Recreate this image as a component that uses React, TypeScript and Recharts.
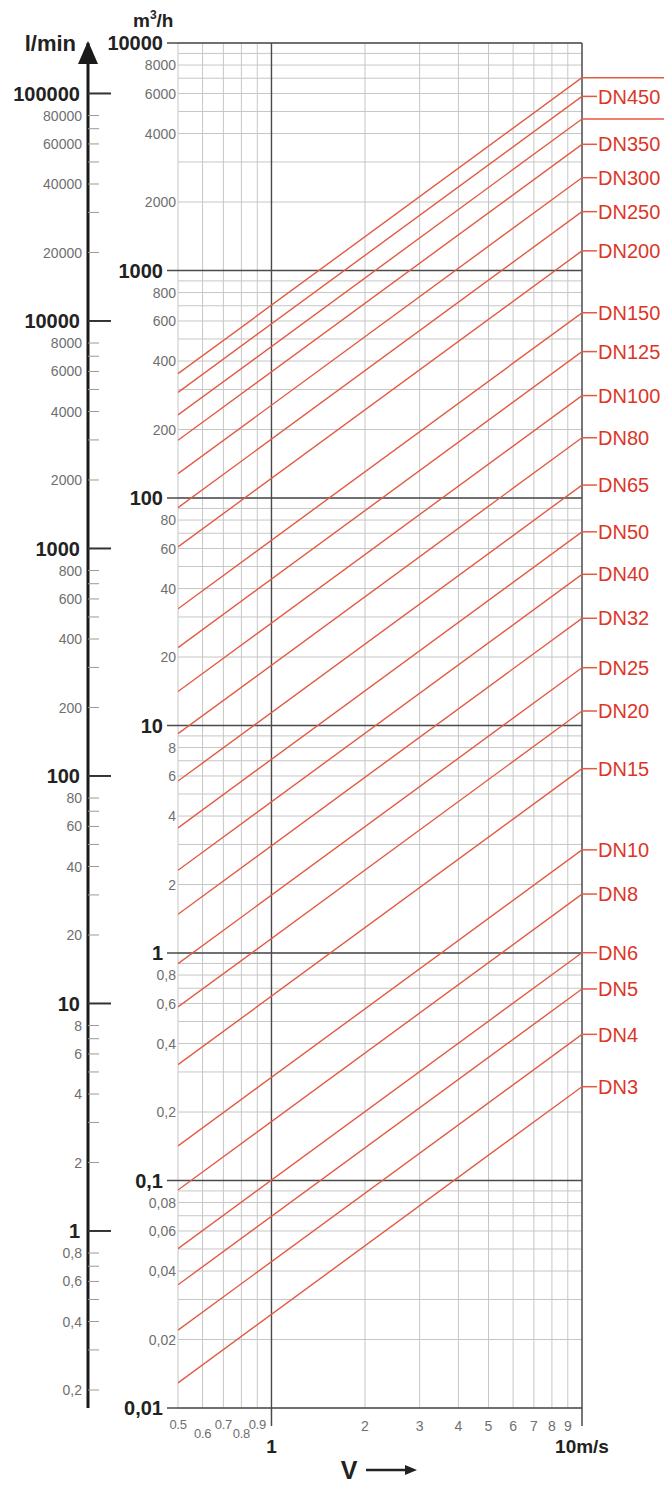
import React from 'react';
import { LineChart, Line, XAxis, YAxis, CartesianGrid, ReferenceLine, LabelList } from 'recharts';

// ---- data ----
const dnNames = ['', 'DN450', '', 'DN350', 'DN300', 'DN250', 'DN200', 'DN150', 'DN125', 'DN100', 'DN80', 'DN65', 'DN50', 'DN40', 'DN32', 'DN25', 'DN20', 'DN15', 'DN10', 'DN8', 'DN6', 'DN5', 'DN4', 'DN3'];
// flow rate (m3/h) at v = 0.5 m/s
const flowAtStart = [352, 291.3, 231.7, 179.4, 127.9, 90.7, 61, 32.6, 22.0, 14.1, 9.2, 5.7, 3.55, 2.31, 1.48, 0.898, 0.579, 0.323, 0.142, 0.0908, 0.0502, 0.0348, 0.0220, 0.0129];
// flow rate (m3/h) at v = 10 m/s
const flowAtEnd = [7040, 5826, 4634, 3587, 2558, 1814, 1220, 652, 440, 282, 184, 114, 71, 46.2, 29.6, 17.95, 11.58, 6.46, 2.84, 1.816, 1.003, 0.695, 0.439, 0.2584];
const velocityStart = 0.5;
const velocityEnd = 10;

const velocityTicks = [0.5, 0.6, 0.7, 0.8, 0.9, 1, 2, 3, 4, 5, 6, 7, 8, 9, 10];
const velocityTickLabels = ['0.5', '0.6', '0.7', '0.8', '0.9', '1', '2', '3', '4', '5', '6', '7', '8', '9', '10m/s'];

const qMajorValues = [0.01, 0.1, 1, 10, 100, 1000, 10000];
const qMajorLabels = ['0,01', '0,1', '1', '10', '100', '1000', '10000'];
const qMinorValues = [0.02, 0.04, 0.06, 0.08, 0.2, 0.4, 0.6, 0.8, 2, 4, 6, 8, 20, 40, 60, 80, 200, 400, 600, 800, 2000, 4000, 6000, 8000];
const qMinorLabels = ['0,02', '0,04', '0,06', '0,08', '0,2', '0,4', '0,6', '0,8', '2', '4', '6', '8', '20', '40', '60', '80', '200', '400', '600', '800', '2000', '4000', '6000', '8000'];
const qGridMultipliers = [2, 3, 4, 5, 6, 7, 8, 9];

const lminMajorValues = [1, 10, 100, 1000, 10000, 100000];
const lminMajorLabels = ['1', '10', '100', '1000', '10000', '100000'];
const lminMinorValues = [0.2, 0.4, 0.6, 0.8, 2, 4, 6, 8, 20, 40, 60, 80, 200, 400, 600, 800, 2000, 4000, 6000, 8000, 20000, 40000, 60000, 80000];
const lminMinorLabels = ['0,2', '0,4', '0,6', '0,8', '2', '4', '6', '8', '20', '40', '60', '80', '200', '400', '600', '800', '2000', '4000', '6000', '8000', '20000', '40000', '60000', '80000'];
const lminUnlabeledValues = [0.3, 0.5, 0.7, 3, 5, 7, 30, 50, 70, 300, 500, 700, 3000, 5000, 7000, 30000, 50000, 70000];

const qDomain: [number, number] = [0.01, 10000];
const lminPerM3h = 1000 / 60;
const lminDomain: [number, number] = [qDomain[0] * lminPerM3h, qDomain[1] * lminPerM3h];

// ---- derived tick sets ----
const qTicks: number[] = [];
qMajorValues.forEach((m, i) => {
  qTicks.push(m);
  if (i < qMajorValues.length - 1) qGridMultipliers.forEach((k) => qTicks.push(parseFloat((k * m).toPrecision(6))));
});
const lminTicks = [...lminMajorValues, ...lminMinorValues, ...lminUnlabeledValues].sort((a, b) => a - b);

const seriesData = dnNames.map((_, i) => [
  { v: velocityStart, q: flowAtStart[i] },
  { v: velocityEnd, q: flowAtEnd[i] },
]);

const Q_AXIS = 'axq';
const L_AXIS = 'bxl';

// ---- styles ----
const FONT = '"Liberation Sans", Arial, Helvetica, sans-serif';
const RED_LINE = '#e35a43';
const RED_TEXT = '#dc3628';
const GRID = '#c6c6c6';
const DARK = '#4a4a4a';
const GRAY_TEXT = '#6f6f6f';

const near = (a: number, b: number) => Math.abs(a - b) <= Math.abs(b) * 1e-6;

function QTick(p: any) {
  const v = p.payload?.value;
  const x = p.x;
  const y = p.y;
  const mi = qMajorValues.findIndex((m) => near(v, m));
  if (mi >= 0) {
    return (
      <g>
        <line x1={x - 11} x2={x} y1={y} y2={y} stroke={DARK} strokeWidth={1.5} />
        <text x={x - 15} y={y} dy="0.36em" textAnchor="end" fontFamily={FONT} fontWeight="bold" fontSize={20} fill="#222">
          {qMajorLabels[mi]}
        </text>
      </g>
    );
  }
  const li = qMinorValues.findIndex((m) => near(v, m));
  if (li >= 0) {
    return (
      <text x={x - 2} y={y} dy="0.36em" textAnchor="end" fontFamily={FONT} fontSize={14} fill={GRAY_TEXT}>
        {qMinorLabels[li]}
      </text>
    );
  }
  return <g />;
}

function LminTick(p: any) {
  const v = p.payload?.value;
  const x = p.x;
  const y = p.y;
  const mi = lminMajorValues.findIndex((m) => near(v, m));
  if (mi >= 0) {
    return (
      <g>
        <line x1={x} x2={x + 23} y1={y} y2={y} stroke="#333" strokeWidth={2} />
        <text x={x - 8} y={y} dy="0.36em" textAnchor="end" fontFamily={FONT} fontWeight="bold" fontSize={20} fill="#222">
          {lminMajorLabels[mi]}
        </text>
      </g>
    );
  }
  const li = lminMinorValues.findIndex((m) => near(v, m));
  return (
    <g>
      <line x1={x} x2={x + 11} y1={y} y2={y} stroke="#9a9a9a" strokeWidth={1} />
      {li >= 0 && (
        <text x={x - 6} y={y} dy="0.36em" textAnchor="end" fontFamily={FONT} fontSize={14} fill={GRAY_TEXT}>
          {lminMinorLabels[li]}
        </text>
      )}
    </g>
  );
}

function VTick(p: any) {
  const v = p.payload?.value;
  const x = p.x;
  const y = p.y;
  const i = velocityTicks.findIndex((m) => near(v, m));
  if (i < 0) return <g />;
  const label = velocityTickLabels[i];
  if (near(v, 1) || near(v, 10)) {
    return (
      <g>
        <line x1={x} x2={x} y1={y} y2={y + 18} stroke={DARK} strokeWidth={1.5} />
        <text x={x} y={y + 45} textAnchor="middle" fontFamily={FONT} fontWeight="bold" fontSize={19} fill="#222">
          {label}
        </text>
      </g>
    );
  }
  if (v < 1) {
    const low = i % 2 === 1;
    return (
      <text x={x} y={y + (low ? 30 : 21)} textAnchor="middle" fontFamily={FONT} fontSize={13} letterSpacing={-0.3} fill={GRAY_TEXT}>
        {label}
      </text>
    );
  }
  return (
    <text x={x} y={y + 23} textAnchor="middle" fontFamily={FONT} fontSize={14} fill={GRAY_TEXT}>
      {label}
    </text>
  );
}

function VAxisTitle(p: any) {
  const vb = p.viewBox || {};
  const cx = vb.x + 171;
  const by = vb.y + 71;
  return (
    <g>
      <text x={cx} y={by} textAnchor="middle" fontFamily={FONT} fontWeight="bold" fontSize={25} fill="#222">V</text>
      <line x1={cx + 17} x2={cx + 60} y1={by - 9} y2={by - 9} stroke="#222" strokeWidth={2.5} />
      <polygon points={`${cx + 68},${by - 9} ${cx + 56},${by - 14} ${cx + 56},${by - 4}`} fill="#222" />
    </g>
  );
}

function LminTitle(p: any) {
  const vb = p.viewBox || {};
  const ax = vb.x + vb.width;
  const top = vb.y;
  return (
    <g>
      <polygon points={`${ax},${top - 2} ${ax - 10},${top + 21} ${ax + 10},${top + 21}`} fill="#1a1a1a" />
      <text x={ax - 12} y={top + 8} textAnchor="end" fontFamily={FONT} fontWeight="bold" fontSize={22} fill="#222">l/min</text>
    </g>
  );
}

function QTitle(p: any) {
  const vb = p.viewBox || {};
  const left = vb.x + 45;
  return (
    <text x={left} y={vb.y - 16} fontFamily={FONT} fontWeight="bold" fontSize={19} fill="#222">
      m<tspan fontSize={12} dy={-8}>3</tspan><tspan dy={8}>/h</tspan>
    </text>
  );
}

function makeDnLabel(name: string, chartWidth: number) {
  return (p: any) => {
    if (p.index !== 1) return null;
    const x = p.x ?? p.viewBox?.x;
    const y = p.y ?? p.viewBox?.y;
    if (x == null || y == null) return null;
    if (!name) {
      return <line x1={x} x2={chartWidth} y1={y} y2={y} stroke={RED_LINE} strokeWidth={1.5} />;
    }
    return (
      <g>
        <line x1={x} x2={x + 15} y1={y} y2={y} stroke={RED_LINE} strokeWidth={1.5} />
        <text x={x + 16} y={y} dy="0.36em" fontFamily={FONT} fontSize={20} fill={RED_TEXT}>
          {name}
        </text>
      </g>
    );
  };
}

export default function App() {
  const W = 664;
  const H = 1485;
  return (
    <div style={{ position: 'absolute', left: 0, top: 0, width: W, height: H, background: '#fff' }}>
      <LineChart width={W} height={H} margin={{ top: 43, right: 82, bottom: 0, left: 0 }}>
        <CartesianGrid yAxisId={Q_AXIS} stroke={GRID} strokeWidth={1} />
        <XAxis
          type="number"
          dataKey="v"
          scale="log"
          domain={[velocityStart, velocityEnd]}
          allowDataOverflow
          ticks={velocityTicks}
          interval={0}
          tickSize={0}
          tickMargin={0}
          tickLine={false}
          axisLine={false}
          height={77}
          tick={VTick}
          label={VAxisTitle}
        />
        <YAxis
          yAxisId={Q_AXIS}
          type="number"
          scale="log"
          domain={qDomain}
          allowDataOverflow
          ticks={qTicks}
          interval={0}
          width={90}
          tickSize={0}
          tickMargin={0}
          tickLine={false}
          axisLine={false}
          tick={QTick}
          label={QTitle}
        />
        <YAxis
          yAxisId={L_AXIS}
          type="number"
          scale="log"
          domain={lminDomain}
          allowDataOverflow
          ticks={lminTicks}
          interval={0}
          width={88}
          tickSize={0}
          tickMargin={0}
          tickLine={false}
          axisLine={{ stroke: '#1a1a1a', strokeWidth: 3 }}
          tick={LminTick}
          label={LminTitle}
        />
        {qMajorValues.map((m) => (
          <ReferenceLine key={'hy' + m} yAxisId={Q_AXIS} y={m} stroke={DARK} strokeWidth={1.4} />
        ))}
        <ReferenceLine yAxisId={Q_AXIS} x={1} stroke={DARK} strokeWidth={1.4} />
        <ReferenceLine yAxisId={Q_AXIS} x={10} stroke={DARK} strokeWidth={1.4} />
        {dnNames.map((name, i) => (
          <Line
            key={'dn' + i}
            yAxisId={Q_AXIS}
            data={seriesData[i]}
            dataKey="q"
            type="linear"
            stroke={RED_LINE}
            strokeWidth={1.4}
            dot={false}
            activeDot={false}
            isAnimationActive={false}
            legendType="none"
          >
            <LabelList dataKey="q" content={makeDnLabel(name, W)} />
          </Line>
        ))}
      </LineChart>
    </div>
  );
}
